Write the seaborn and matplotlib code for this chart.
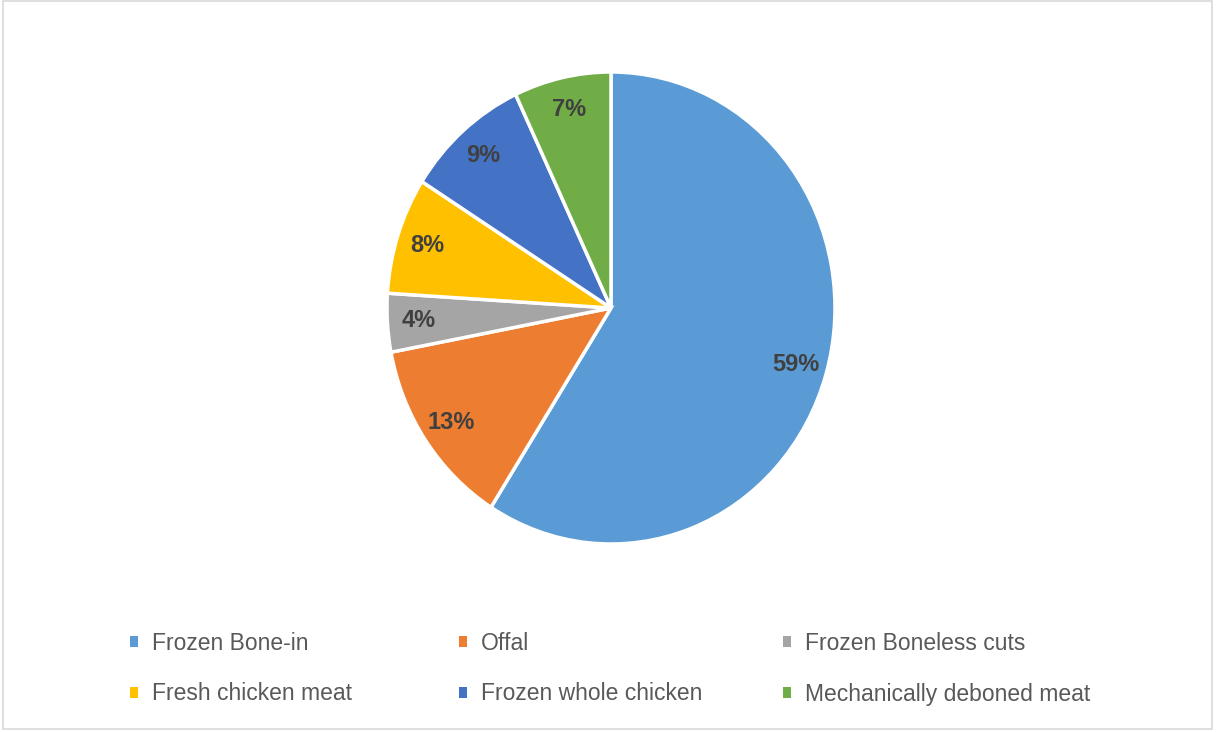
import matplotlib
matplotlib.use("Agg")
import matplotlib.pyplot as plt
from matplotlib.patches import Patch, Rectangle
import seaborn as sns

categories = ["Frozen Bone-in", "Offal", "Frozen Boneless cuts",
              "Fresh chicken meat", "Frozen whole chicken", "Mechanically deboned meat"]
shares = [59, 13, 4, 8, 9, 7]
colors = ["#5B9BD5", "#ED7D31", "#A5A5A5", "#FFC000", "#4472C4", "#70AD47"]

sns.set_theme(style="white")
plt.rcParams['font.family'] = ['Liberation Sans', 'DejaVu Sans']

W, H = 1216, 732
fig = plt.figure(figsize=(W / 100, H / 100), dpi=100)

# pie axes (slightly elliptical like the reference)
cx, cy, rx, ry = 611, 308, 224, 236
ax = fig.add_axes([(cx - rx) / W, (H - (cy + ry)) / H, 2 * rx / W, 2 * ry / H])
wedges, texts, autotexts = ax.pie(
    shares, colors=colors, startangle=90, counterclock=False,
    autopct=lambda p: f"{p:.0f}%", pctdistance=0.86,
    wedgeprops=dict(edgecolor="white", linewidth=2.5),
    textprops=dict(fontsize=17, fontweight="bold", color="#404040"))
ax.set_xlim(-1, 1)
ax.set_ylim(-1, 1)
ax.set_aspect("auto")
ax.axis("off")

# legend: three equal columns, two rows
handles = [Patch(facecolor=c, edgecolor="none") for c in colors]
col_x = [130, 459, 783]
for j in range(3):
    idx = [j, j + 3]
    fig.legend([handles[i] for i in idx], [categories[i] for i in idx],
               loc="upper left", bbox_to_anchor=(col_x[j] / W, 1 - 632 / H),
               frameon=False, fontsize=16.5, labelcolor="#595959",
               handlelength=0.36, handleheight=0.36, handletextpad=0.6,
               labelspacing=1.2, borderaxespad=0, borderpad=0)

# outer border
fig.patches.append(Rectangle((2.5 / W, 3.5 / H), (1212 - 2.5) / W, (731 - 3.5) / H,
                             transform=fig.transFigure, fill=False,
                             edgecolor="#D9D9D9", linewidth=1.2))

fig.savefig("out.png", dpi=100)
